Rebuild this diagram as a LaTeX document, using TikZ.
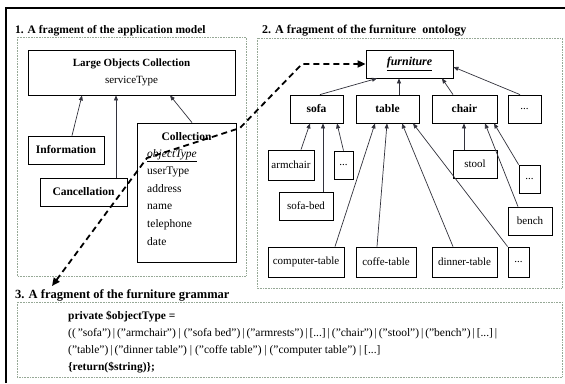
\documentclass[tikz,border=0pt]{standalone}
\usepackage{fontspec}
\setmainfont{Liberation Serif}
\usetikzlibrary{arrows.meta}
\definecolor{panelc}{RGB}{150,168,150}
\definecolor{linec}{RGB}{50,50,60}
\newcommand{\sepbar}{\,|\,}
\begin{document}
\begin{tikzpicture}[x=1pt,y=-1pt,
  box/.style={draw, line width=0.8pt, inner sep=0pt, font=\fontsize{11}{17}\selectfont},
  bbox/.style={box, font=\fontsize{11.5}{17}\selectfont\bfseries},
  panel/.style={draw=panelc, densely dotted, line width=0.6pt},
  conn/.style={draw=linec, line width=0.7pt, -{Triangle[length=5pt,width=4pt]}},
  dlink/.style={draw=black, line width=1.8pt, dash pattern=on 6pt off 4pt,
    {Triangle[length=8pt,width=7pt]}-{Triangle[length=8pt,width=7pt]}},
  ttl/.style={anchor=base west, inner sep=0pt, font=\fontsize{11.5}{13}\selectfont\bfseries},
  attr/.style={anchor=base west, inner sep=0pt, font=\fontsize{11.5}{14}\selectfont},
  gram/.style={anchor=base west, inner sep=0pt, font=\fontsize{11.5}{14}\selectfont},
]
\useasboundingbox (0,0) rectangle (565,383);
\fill[white] (0,0) rectangle (565,383);
\draw[line width=1.5pt] (6,383) -- (6,8) -- (565,8);

% titles
\node[ttl] (t1) at (15,33) {1. A fragment of the application model};
\node[ttl, font=\fontsize{12}{14}\selectfont\bfseries] (t2) at (262,33) {2. A fragment of the furniture\ \ ontology};
\node[ttl, font=\fontsize{12.5}{14}\selectfont\bfseries] (t3) at (15,298) {3. A fragment of the furniture grammar};

% panels
\draw[panel] (17,37) rectangle (246,276);
\draw[panel] (257,38) rectangle (562,288);
\draw[panel] (17,302) rectangle (562,377);

% panel 1
\node[box, minimum width=207pt, minimum height=45pt, align=center] (loc) at (131.5,72.5)
  {\textbf{Large Objects Collection}\\serviceType};
\node[bbox, minimum width=76pt, minimum height=28pt] (info) at (66,150) {Information};
\node[bbox, minimum width=87pt, minimum height=28pt] (canc) at (83.5,192) {Cancellation};
\node[box, minimum width=99pt, minimum height=139pt] (coll) at (186.5,192.5) {};
\node[anchor=base, inner sep=0pt, font=\fontsize{11.5}{14}\selectfont\bfseries] (ctitle) at (186.5,140) {Collection};
\node[attr] (a1) at (147,157) {\underline{\textit{objectType}}};
\node[attr] (a2) at (147,174.6) {userType};
\node[attr] (a3) at (147,192.2) {address};
\node[attr] (a4) at (147,209.8) {name};
\node[attr] (a5) at (147,227.4) {telephone};
\node[attr] (a6) at (147,245) {date};

\draw[conn] ([xshift=6pt]info.north) -- ([xshift=-49.5pt]loc.south);
\draw[conn] ([xshift=32.5pt]canc.north) -- ([xshift=-15.5pt]loc.south);
\draw[conn] ([xshift=5.5pt]coll.north) -- ([xshift=38.5pt]loc.south);

% panel 2
\node[box, minimum width=87pt, minimum height=28pt, font=\fontsize{12}{14}\selectfont] (fur) at (409.5,64)
  {\underline{\textbf{\textit{furniture}}}};
\node[bbox, minimum width=53pt, minimum height=28pt] (sofa) at (316.5,109) {sofa};
\node[bbox, minimum width=63pt, minimum height=28pt] (table) at (387.5,109) {table};
\node[bbox, minimum width=65pt, minimum height=28pt] (chair) at (464.5,109) {chair};
\node[box, minimum width=33pt, minimum height=28pt] (d1) at (524.5,109) {...};

\node[box, minimum width=46pt, minimum height=30pt] (arm) at (291,165) {armchair};
\node[box, minimum width=19pt, minimum height=28pt] (d2) at (343.5,165) {...};
\node[box, minimum width=54pt, minimum height=28pt] (sbed) at (306,206) {sofa-bed};
\node[box, minimum width=44pt, minimum height=28pt] (stool) at (475,164) {stool};
\node[box, minimum width=21pt, minimum height=28pt] (d3) at (529.5,179) {...};
\node[box, minimum width=44pt, minimum height=28pt] (bench) at (530,221) {bench};
\node[box, minimum width=76pt, minimum height=30pt] (comp) at (306,262) {computer-table};
\node[box, minimum width=60pt, minimum height=30pt] (coffe) at (386,262) {coffe-table};
\node[box, minimum width=65pt, minimum height=30pt] (dinner) at (464.5,262) {dinner-table};
\node[box, minimum width=21pt, minimum height=30pt] (d4) at (518.5,262) {...};

\draw[conn] ([xshift=3.5pt]sofa.north) -- ([xshift=-32.5pt]fur.south);
\draw[conn] ([xshift=11.5pt]table.north) -- ([xshift=-10.5pt]fur.south);
\draw[conn] ([xshift=-11.5pt]chair.north) -- ([xshift=32.5pt]fur.south);
\draw[conn] ([xshift=-4.5pt]d1.north) -- ([yshift=-3pt]fur.east);

\draw[conn] ([xshift=10pt]arm.north) -- ([xshift=-6.5pt]sofa.south);
\draw[conn] ([xshift=17pt]sbed.north) -- ([xshift=6.5pt]sofa.south);
\draw[conn] (d2.north) -- ([xshift=20.5pt]sofa.south);
\draw[conn] ([xshift=29pt]comp.north) -- ([xshift=-12.5pt]table.south);
\draw[conn] ([xshift=-9pt]coffe.north) -- ([xshift=-0.5pt]table.south);
\draw[conn] ([xshift=-11.5pt]dinner.north) -- ([xshift=14.5pt]table.south);
\draw[conn] (d4.north west) -- ([xshift=25.5pt]table.south);
\draw[conn] ([xshift=-11pt]stool.north) -- ([xshift=-0.5pt]chair.south);
\draw[conn] ([xshift=-12pt]bench.north) -- ([xshift=20.5pt]chair.south);
\draw[conn] (d3.north west) -- ([xshift=29.5pt]chair.south);

% dashed link
\coordinate (b1) at (302,64);
\coordinate (b2) at (240,128);
\coordinate (b3) at (147,158);
\coordinate (tipg) at (52,286);
\draw[dlink] (tipg) -- (b3) -- (b2) -- (b1) -- (fur.west);

% grammar
\node[gram, font=\fontsize{11.5}{14}\selectfont\bfseries] (g1) at (68,319) {private \$objectType =};
\node[gram] (g2) at (68,336) {((\,"sofa")\sepbar("armchair") | ("sofa bed")\sepbar("armrests")\sepbar[...]\sepbar("chair")\sepbar("stool")\sepbar("bench")\sepbar[...]\sepbar};
\node[gram] (g3) at (68,353) {("table")\sepbar("dinner table") | ("coffe table") | ("computer table") | [...]};
\node[gram, font=\fontsize{11.5}{14}\selectfont\bfseries] (g4) at (68,370) {\{return(\$string)\};};
\end{tikzpicture}
\end{document}
